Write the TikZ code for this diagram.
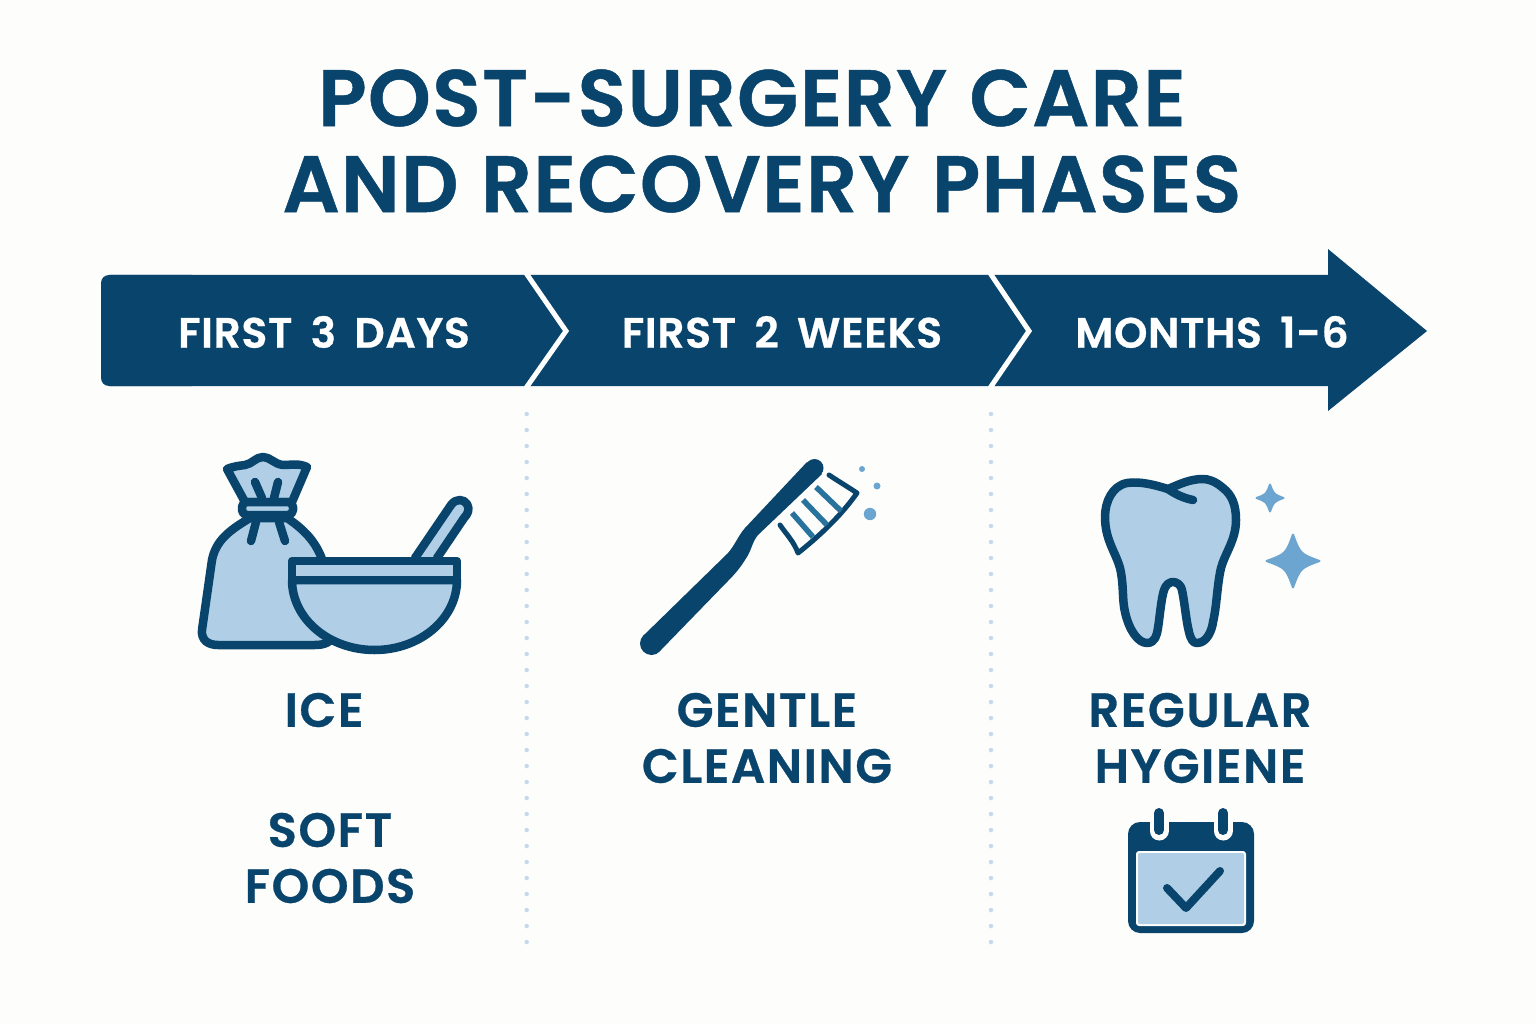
\documentclass[tikz,border=0pt]{standalone}
\usepackage{fontspec}
\newfontfamily\titlefont{Poppins SemiBold}[LetterSpace=1.6,WordSpace=1.1,FakeBold=0.6]
\newfontfamily\phasefont{Poppins SemiBold}[LetterSpace=1.4,WordSpace=1.7,FakeBold=0.6]
\newfontfamily\carefont{Poppins SemiBold}[LetterSpace=3.2,FakeBold=0.6]
\definecolor{navy}{HTML}{08446B}
\definecolor{pale}{HTML}{B0CFE6}
\definecolor{midblue}{HTML}{6CA6D0}
\definecolor{bristle}{HTML}{28729E}
\definecolor{paper}{HTML}{FDFDFB}
\definecolor{dotblue}{HTML}{C5D9EE}
\tikzset{
  titletext/.style={text=navy,font=\titlefont\fontsize{80}{86}\selectfont,inner sep=0pt},
  phasetext/.style={text=white,font=\phasefont\fontsize{42.5}{48}\selectfont,inner sep=0pt},
  caretext/.style={text=navy,font=\carefont\fontsize{48}{56}\selectfont,align=center,inner sep=0pt},
  icon/.style={draw=navy,fill=pale,line width=8.5pt,line join=round,line cap=round},
  stroke/.style={draw=navy,line width=8.5pt,line join=round,line cap=round},
  divider/.style={draw=dotblue,line width=4.5pt,line cap=round,dash pattern=on 0pt off 16pt},
}
\begin{document}
\begin{tikzpicture}[x=1pt,y=-1pt]
\useasboundingbox (0,0) rectangle (1536,1024);
\fill[paper] (0,0) rectangle (1536,1024);
% title
\node[titletext] (titleone) at (752,98) {POST-SURGERY CARE};
\node[titletext] (titletwo) at (762,184) {AND RECOVERY PHASES};
% arrow band
\fill[navy,rounded corners=8pt] (130,275)--(101,275)--(101,386)--(130,386)--(200,386)--(200,275)--cycle;
\fill[navy] (110,275)--(1328,275)--(1328,249)--(1427,331)--(1328,411)--(1328,386)--(110,386)--cycle;
\draw[white,line width=5pt] (526,273)--(566,331)--(526,388);
\draw[white,line width=5pt] (990,273)--(1029,331)--(990,388);
\node[phasetext] (phaseone) at (324,332) {FIRST 3 DAYS};
\node[phasetext] (phasetwo) at (782,332) {FIRST 2 WEEKS};
\node[phasetext] (phasethree) at (1212,332) {MONTHS 1-6};
% dotted dividers
\draw[divider] (526.7,414)--(526.7,948);
\draw[divider] (991,414)--(991,948);
% bag
\draw[icon] (245,502)--(227,469) .. controls (235,466) and (238,466) .. (245,465)
  .. controls (252,464) and (256,457) .. (263,457) .. controls (270,457) and (274,464) .. (283,465)
  .. controls (292,465) and (298,463) .. (307,467)--(292,502)--cycle;
\draw[stroke] (255,482)--(262,498);
\draw[stroke] (278,482)--(274,498);
\draw[icon] (250,518) .. controls (230,530) and (216,540) .. (212,560)
  --(202,630) .. controls (201,640) and (208,645) .. (218,645)
  --(315,645) .. controls (325,645) and (330,642) .. (335,636)
  --(325,570) .. controls (320,545) and (305,530) .. (287,518)--cycle;
\draw[stroke] (256,522)--(251,541);
\draw[stroke] (279,522)--(285,541);
\draw[icon,rounded corners=5pt] (242,502) rectangle (293,515);
% spoon
\draw[icon] (415,558)--(451,505) .. controls (456,498) and (464,499) .. (467,504)
  .. controls (470,509) and (468,514) .. (464,518)--(437,558);
% bowl
\draw[icon] (292,580) arc[start angle=180,end angle=0,x radius=82.5,y radius=70]--cycle;
\draw[icon] (292,561) rectangle (457,580);
% toothbrush
\fill[navy] (643,636)--(728,553) .. controls (735,545) and (738,536) .. (745,528)
  --(807,462)--(822,474)--(758,535) .. controls (752,542) and (752,550) .. (745,560)
  .. controls (740,568) and (735,574) .. (727,582)--(660,651)--cycle;
\fill[navy] (651.5,643.5) circle (11.5);
\fill[navy] (814.5,468) circle (9);
\draw[draw=navy,line width=5pt,line join=round,line cap=round] (780,525) .. controls (787,535) and (794,542) .. (798,553)
  .. controls (813,541) and (838,520) .. (857,493) .. controls (848,487) and (838,481) .. (829,475);
\foreach \xa/\ya/\xb/\yb in {792/513/813/537,803/500/827/525,816/487/841/511}
  \draw[bristle,line width=5.5pt] (\xa,\ya)--(\xb,\yb);
\fill[midblue] (862,469) circle (3);
\fill[midblue] (877,486) circle (3.5);
\fill[midblue] (870,514) circle (6.2);
% tooth
\draw[icon,fill=pale] (1168,489) .. controls (1155,485) and (1140,481) .. (1127,483)
  .. controls (1112,486) and (1105,502) .. (1105,517) .. controls (1105,540) and (1116,553) .. (1120,568)
  .. controls (1124,585) and (1122,600) .. (1125,612) .. controls (1129,630) and (1138,643) .. (1147,643)
  .. controls (1155,643) and (1157,635) .. (1158,628) .. controls (1160,615) and (1161,600) .. (1164,590)
  .. controls (1166,584) and (1170,582) .. (1173,582) .. controls (1177,582) and (1181,585) .. (1182,590)
  .. controls (1185,605) and (1186,620) .. (1189,632) .. controls (1191,640) and (1193,643) .. (1197,643)
  .. controls (1207,643) and (1212,630) .. (1213,622) .. controls (1217,605) and (1217,585) .. (1221,568)
  .. controls (1225,553) and (1236,540) .. (1236,520) .. controls (1236,505) and (1232,495) .. (1223,488)
  .. controls (1215,481) and (1208,479) .. (1203,479) .. controls (1190,479) and (1180,484) .. (1168,489)--cycle;
\draw[stroke] (1168,489) .. controls (1175,494) and (1183,498) .. (1193,500);
% sparkles
\foreach \cx/\cy/\rr in {1270/498/13.5,1293/561/26.5}
  \draw[midblue,fill=midblue,line width=2pt,line join=round] (\cx,\cy-\rr) .. controls (\cx+.27*\rr,\cy-.27*\rr) .. (\cx+\rr,\cy)
    .. controls (\cx+.27*\rr,\cy+.27*\rr) .. (\cx,\cy+\rr)
    .. controls (\cx-.27*\rr,\cy+.27*\rr) .. (\cx-\rr,\cy)
    .. controls (\cx-.27*\rr,\cy-.27*\rr) .. (\cx,\cy-\rr)--cycle;
% care labels
\node[caretext] (ice) at (324,710) {ICE};
\node[caretext] (softfoods) at (330,858) {SOFT\\FOODS};
\node[caretext] (cleaning) at (767,738) {GENTLE\\CLEANING};
\node[caretext] (hygiene) at (1200,738) {REGULAR\\HYGIENE};
% calendar
\fill[navy,rounded corners=12pt] (1128,822) rectangle (1254,933);
\fill[white,rounded corners=3pt] (1136,851) rectangle (1246,926);
\fill[pale,rounded corners=2pt] (1138,853) rectangle (1244,924);
\foreach \xa in {1159,1223} {
  \draw[paper,line width=19pt,line cap=round] (\xa,815)--(\xa,831);
  \draw[navy,line width=10pt,line cap=round] (\xa,813)--(\xa,830);
}
\draw[stroke,line width=8pt] (1167,888)--(1186,908)--(1220,871);
\end{tikzpicture}
\end{document}
